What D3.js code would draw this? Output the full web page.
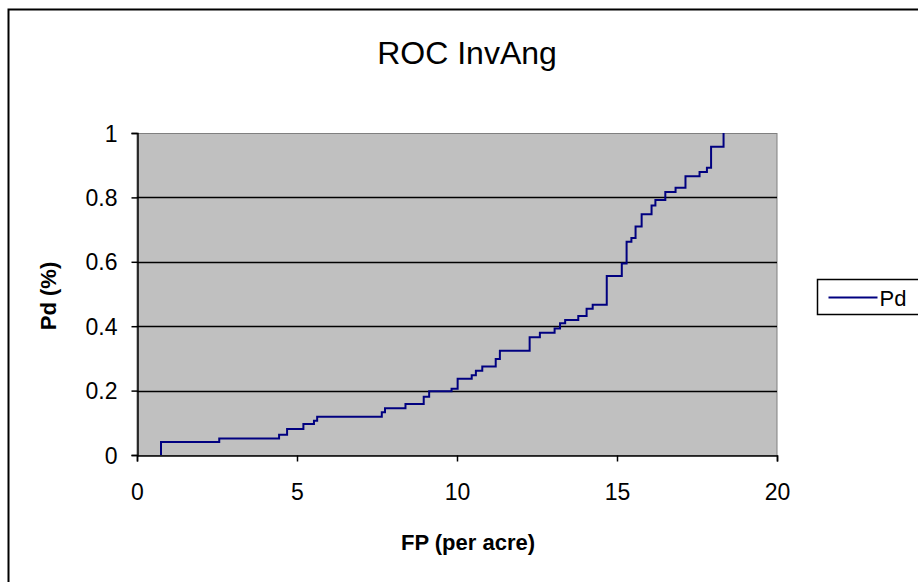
<!DOCTYPE html>
<html>
<head>
<meta charset="utf-8">
<script src="https://cdnjs.cloudflare.com/ajax/libs/d3/7.8.5/d3.min.js"></script>
<style>
  body { margin: 0; background: #fff; }
  text { font-family: "Liberation Sans", Arial, sans-serif; }
</style>
</head>
<body>
<div id="chart"></div>
<script>
// ROC curve: false positives per acre vs probability of detection (step curve)
let fpValues = [0.75, 0.75, 2.57, 4.44, 4.69, 5.20, 5.53, 5.63, 7.65, 7.75, 8.39, 8.96, 9.13, 9.83,
    10.02, 10.46, 10.59, 10.79, 11.21, 11.34, 12.27, 12.59, 13.05, 13.22, 13.38, 13.79, 14.05,
    14.24, 14.68, 15.15, 15.30, 15.45, 15.58, 15.77, 16.08, 16.20, 16.51, 16.83, 17.14, 17.58,
    17.81, 17.94, 18.33]
let pdValues = [0, 0.040, 0.051, 0.063, 0.081, 0.096, 0.106, 0.119, 0.133, 0.145, 0.158, 0.181,
    0.198, 0.206, 0.237, 0.248, 0.262, 0.275, 0.298, 0.324, 0.366, 0.380, 0.393, 0.409, 0.419,
    0.432, 0.454, 0.467, 0.556, 0.595, 0.662, 0.674, 0.710, 0.748, 0.775, 0.792, 0.817, 0.830,
    0.866, 0.879, 0.892, 0.957, 1.0]
let xTicks = [0, 5, 10, 15, 20]
let yTicks = [0, 0.2, 0.4, 0.6, 0.8, 1]
let seriesName = "Pd"

let W = 918, H = 582
let plot = {left: 137, right: 777, top: 133, bottom: 455}

let svg = d3.select("#chart")
    .append("svg")
    .attr("width", W)
    .attr("height", H)

// outer chart frame
svg.append("rect")
    .attr("x", 8.5).attr("y", 9.5)
    .attr("width", W + 10).attr("height", H + 10)
    .attr("fill", "#fff")
    .attr("stroke", "#000")
    .attr("stroke-width", 2)

let x = d3.scaleLinear().domain([0, 20]).range([plot.left, plot.right])
let y = d3.scaleLinear().domain([0, 1]).range([plot.bottom, plot.top])

// plot background
svg.append("rect")
    .attr("x", plot.left).attr("y", plot.top + 0.5)
    .attr("width", plot.right - plot.left)
    .attr("height", plot.bottom - plot.top)
    .attr("fill", "#c0c0c0")
    .attr("stroke", "#808080")
    .attr("stroke-width", 1)

// gridlines
svg.append("g")
    .selectAll("line")
    .data(yTicks.filter(d => d > 0 && d < 1))
    .enter()
    .append("line")
    .attr("x1", plot.left).attr("x2", plot.right)
    .attr("y1", d => Math.round(y(d)) + 0.5)
    .attr("y2", d => Math.round(y(d)) + 0.5)
    .attr("stroke", "#000")
    .attr("stroke-width", 1.5)

// axes
let xAxis = svg.append("g")
    .attr("transform", "translate(0," + (plot.bottom + 0.5) + ")")
    .call(d3.axisBottom(x).tickValues(xTicks).tickSize(6).tickPadding(22).tickFormat(d3.format("d")))
let yAxis = svg.append("g")
    .attr("transform", "translate(" + (plot.left + 0.5) + ",0)")
    .call(d3.axisLeft(y).tickValues(yTicks).tickSize(6).tickPadding(14).tickFormat(d => d === 0 || d === 1 ? d : d3.format(".1f")(d)))

;[xAxis, yAxis].forEach(a => {
    a.select(".domain").attr("stroke", "#000").attr("stroke-width", 1.5)
    a.selectAll(".tick line").attr("stroke", "#000").attr("stroke-width", 1.5)
    a.selectAll(".tick text")
        .attr("fill", "#000")
        .style("font-family", "'Liberation Sans', Arial, sans-serif")
        .style("font-size", "23px")
})
yAxis.selectAll(".tick text").attr("dy", "0.35em")

// the ROC step line
let data = fpValues.map((d, i) => ({fp: d, pd: pdValues[i]}))
svg.append("path")
    .datum(data)
    .attr("d", d3.line()
        .x(d => x(d.fp))
        .y(d => y(d.pd))
        .curve(d3.curveStepAfter))
    .attr("fill", "none")
    .attr("stroke", "#000080")
    .attr("stroke-width", 2)

// titles
svg.append("text")
    .attr("x", 467).attr("y", 64)
    .attr("text-anchor", "middle")
    .style("font-size", "32px")
    .text("ROC InvAng")

svg.append("text")
    .attr("x", 468).attr("y", 550)
    .attr("text-anchor", "middle")
    .style("font-size", "22px")
    .style("font-weight", "bold")
    .text("FP (per acre)")

svg.append("text")
    .attr("transform", "translate(56,296) rotate(-90)")
    .attr("text-anchor", "middle")
    .style("font-size", "22px")
    .style("font-weight", "bold")
    .text("Pd (%)")

// legend
let legend = svg.append("g").attr("transform", "translate(817.5,279.5)")
legend.append("rect")
    .attr("width", 120).attr("height", 35)
    .attr("fill", "#fff")
    .attr("stroke", "#000")
    .attr("stroke-width", 1.5)
legend.append("line")
    .attr("x1", 11).attr("x2", 60)
    .attr("y1", 18).attr("y2", 18)
    .attr("stroke", "#000080")
    .attr("stroke-width", 2)
legend.append("text")
    .attr("x", 62).attr("y", 26)
    .style("font-size", "22px")
    .text(seriesName)
</script>
</body>
</html>
